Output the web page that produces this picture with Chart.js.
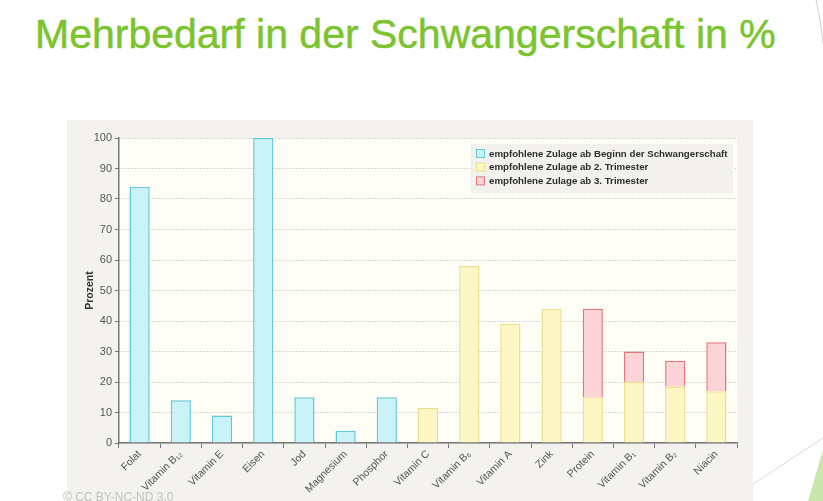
<!DOCTYPE html>
<html lang="de">
<head>
<meta charset="utf-8">
<script src="https://cdn.jsdelivr.net/npm/chart.js@4"></script>
<style>
  html, body { margin: 0; padding: 0; background: #fff; }
  body { width: 823px; height: 501px; position: relative; overflow: hidden; }
  h1 {
    position: absolute; left: 35px; top: 11px; margin: 0;
    font: 41px "Liberation Sans", sans-serif; color: #7cc42f; white-space: nowrap;
    letter-spacing: 0; -webkit-text-stroke: 0.5px #7cc42f;
  }
  #panel {
    position: absolute; left: 67px; top: 120px; width: 686px; height: 381px;
    background: #f3f2ee;
  }
  #copy {
    position: absolute; left: -4px; bottom: -3px;
    font: 12px "Liberation Sans", sans-serif; color: #c2c1bd;
  }
  svg.deco { position: absolute; left: 0; top: 0; pointer-events: none; }
</style>
</head>
<body>
<h1>Mehrbedarf in der Schwangerschaft in %</h1>
<div id="panel">
  <canvas id="chart" width="686" height="381"></canvas>
  <div id="copy">© CC BY-NC-ND 3.0</div>
</div>
<svg class="deco" width="823" height="501">
  <line x1="753" y1="484" x2="823" y2="438" stroke="#d9d9d9" stroke-width="1"/>
  <polygon points="808,501 823,450 823,501" fill="#c9e6ad"/>
  <path d="M816,0 Q821,20 823,44" stroke="#cfcfcf" fill="none"/>
</svg>
<script>
// categories and values (Prozent)
const categories = [
  "Folat", "Vitamin B₁₂", "Vitamin E", "Eisen", "Jod", "Magnesium", "Phosphor",
  "Vitamin C", "Vitamin B₆", "Vitamin A", "Zink", "Protein", "Vitamin B₁", "Vitamin B₂", "Niacin"
];
const abBeginn = [84, 14, 9, 100, 15, 4, 15, null, null, null, null, null, null, null, null];
const ab2Trimester = [null, null, null, null, null, null, null, 11.5, 58, 39, 44, 15, 20, 18.5, 17];
const ab3Trimester = [null, null, null, null, null, null, null, null, null, null, null, 29, 10, 8.5, 16];
const seriesLabels = [
  "empfohlene Zulage ab Beginn der Schwangerschaft",
  "empfohlene Zulage ab 2. Trimester",
  "empfohlene Zulage ab 3. Trimester"
];
const yTicks = [0, 10, 20, 30, 40, 50, 60, 70, 80, 90, 100];

const FONT = "'Liberation Sans', sans-serif";

// cream plot area
const plotBg = {
  id: "plotBg",
  beforeDraw: (chart) => {
    const { ctx, chartArea: a } = chart;
    ctx.save();
    ctx.fillStyle = "#fefdf6";
    ctx.fillRect(a.left, a.top, a.right - a.left, a.bottom - a.top);
    ctx.restore();
  },
};

// legend drawn inside the plot, top right
const innerLegend = {
  id: "innerLegend",
  afterDatasetsDraw: (chart) => {
    const { ctx, chartArea: a } = chart;
    const w = 262, h = 49;
    const x = a.right - 4 - w, y = a.top + 6;
    ctx.save();
    ctx.fillStyle = "#f2f1ed";
    ctx.fillRect(x, y, w, h);
    ctx.font = "bold 9.7px " + FONT;
    ctx.textBaseline = "middle";
    chart.data.datasets.forEach((ds, i) => {
      const ry = y + 10 + i * 13.7;
      ctx.fillStyle = ds.backgroundColor;
      ctx.strokeStyle = ds.borderColor;
      ctx.lineWidth = 1;
      ctx.fillRect(x + 5.5, ry - 4.5, 8, 8);
      ctx.strokeRect(x + 5.5, ry - 4.5, 8, 8);
      ctx.fillStyle = "#2e2e2e";
      ctx.fillText(ds.label, x + 18, ry);
    });
    ctx.restore();
  },
};

new Chart(document.getElementById("chart").getContext("2d"), {
  type: "bar",
  data: {
    labels: categories,
    datasets: [
      { label: seriesLabels[0], data: abBeginn, backgroundColor: "#c9f3f7", borderColor: "#62c9d9" },
      { label: seriesLabels[1], data: ab2Trimester, backgroundColor: "#fdf7c6", borderColor: "#efdf8c" },
      { label: seriesLabels[2], data: ab3Trimester, backgroundColor: "#fcd3d6", borderColor: "#e0797f" },
    ],
  },
  options: {
    responsive: false,
    animation: false,
    layout: { padding: { left: 17, top: 18, right: 16, bottom: 0 } },
    datasets: {
      bar: { borderWidth: 1.5, barPercentage: 0.49, categoryPercentage: 1 },
    },
    plugins: {
      legend: { display: false },
      tooltip: { enabled: false },
    },
    scales: {
      x: {
        stacked: true,
        afterFit: (scale) => { scale.height = 58; },
        grid: { drawOnChartArea: false, drawTicks: true, tickLength: 5, offset: true, tickColor: "#777" },
        border: { color: "#777", width: 1.5 },
        ticks: {
          maxRotation: 45, minRotation: 45, autoSkip: false,
          color: "#555", font: { family: FONT, size: 10.5 }, padding: 0,
        },
      },
      y: {
        stacked: true,
        min: 0,
        max: 100,
        afterFit: (scale) => { scale.width = 35; },
        afterBuildTicks: (scale) => { scale.ticks = yTicks.map((v) => ({ value: v })); },
        grid: { color: "#b5b5b5", tickColor: "#777", tickLength: 4, lineWidth: 1 },
        border: { color: "#777", width: 1.5, dash: [1, 2] },
        ticks: { color: "#555", font: { family: FONT, size: 11 }, padding: 3 },
        title: {
          display: true, text: "Prozent", color: "#333",
          font: { family: FONT, size: 10.5, weight: "bold" }, padding: 0,
        },
      },
    },
  },
  plugins: [plotBg, innerLegend],
});
</script>
</body>
</html>
